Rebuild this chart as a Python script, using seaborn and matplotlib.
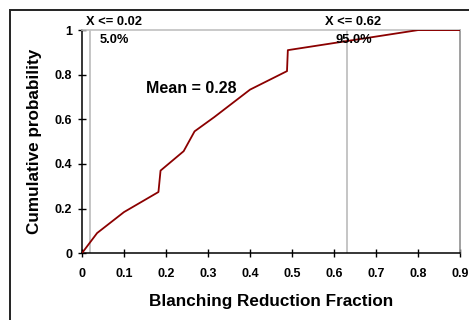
import pandas as pd
import matplotlib.pyplot as plt
import seaborn as sns
from matplotlib.patches import Rectangle

# cumulative distribution
fraction = [0, 0.036, 0.1, 0.182, 0.187, 0.242, 0.268, 0.315, 0.4, 0.488, 0.49, 0.8, 0.9]
cum_prob = [0, 0.09, 0.184, 0.274, 0.37, 0.457, 0.546, 0.61, 0.733, 0.816, 0.91, 1.0, 1.0]
marker_x = [0.02, 0.63]
marker_top = ["X <= 0.02", "X <= 0.62"]
marker_pct = ["5.0%", "95.0%"]
mean_label = "Mean = 0.28"

df = pd.DataFrame({"fraction": fraction, "prob": cum_prob})

sns.set_style("white")
plt.rcParams['font.family'] = ['Liberation Sans', 'DejaVu Sans']
plt.rcParams['font.weight'] = 'bold'
plt.rcParams['text.color'] = 'black'
plt.rcParams['axes.labelcolor'] = 'black'
plt.rcParams['xtick.color'] = 'black'
plt.rcParams['ytick.color'] = 'black'

fig = plt.figure(figsize=(4.69, 3.2), dpi=100)
ax = fig.add_axes([0.1748, 0.209, 0.8062, 0.697])

# figure frame (only top and left visible in the original)
fig.patches.append(Rectangle((10 / 469, -0.1), 1.2, 1 - 10 / 320 + 0.1,
                             transform=fig.transFigure, fill=False,
                             edgecolor='#222222', linewidth=1.4))

for xv in marker_x:
    ax.axvline(xv, color='#c0c0c0', linewidth=1.3, zorder=1)

sns.lineplot(data=df, x='fraction', y='prob', sort=False, color='#8b0000',
             linewidth=1.3, ax=ax, zorder=3)

ax.set_xlim(0, 0.9)
ax.set_ylim(0, 1)
ax.set_xticks([i / 10 for i in range(10)])
ax.set_xticklabels(['0'] + [f"{i / 10:.1f}" for i in range(1, 10)])
ax.set_yticks([0, 0.2, 0.4, 0.6, 0.8, 1.0])
ax.set_yticklabels(['0', '0.2', '0.4', '0.6', '0.8', '1'])
ax.tick_params(direction='inout', length=6, width=1, labelsize=9,
               left=True, bottom=True)
ax.tick_params(axis='x', pad=7.5)
ax.tick_params(axis='y', pad=4)
for lab in ax.get_xticklabels() + ax.get_yticklabels():
    lab.set_fontweight('bold')

for s in ['left', 'bottom']:
    ax.spines[s].set_color('black')
    ax.spines[s].set_linewidth(1.1)
ax.spines['top'].set_color('#c0c0c0')
ax.spines['right'].set_color('#909090')
ax.spines['top'].set_linewidth(1.2)
ax.spines['right'].set_linewidth(1.2)

ax.set_xlabel("Blanching Reduction Fraction", fontsize=12.3, fontweight='bold', labelpad=10)
ax.set_ylabel("Cumulative probability", fontsize=12.3, fontweight='bold', labelpad=9)

text_x = [0.077, 0.646]
for tx, t1, t2 in zip(text_x, marker_top, marker_pct):
    ax.text(tx, 1.035, t1, ha='center', va='center', fontsize=9.3, fontweight='bold', clip_on=False)
    ax.text(tx, 0.954, t2, ha='center', va='center', fontsize=9.3, fontweight='bold')

ax.text(0.259, 0.737, mean_label, ha='center', va='center', fontsize=11.5, fontweight='bold')

plt.savefig("out.png", dpi=100)
